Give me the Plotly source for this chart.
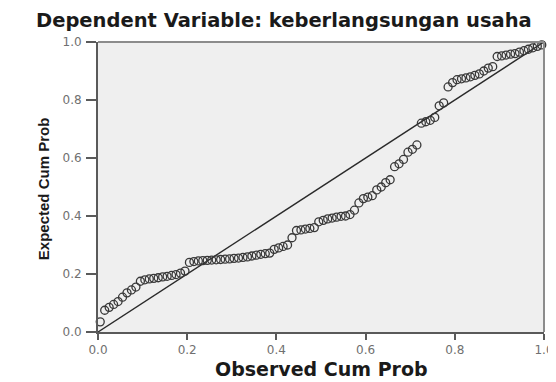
import plotly.graph_objects as go

# Observed cumulative probability (x) and expected cumulative probability (y)
observed = [
    0.005, 0.015, 0.025, 0.035, 0.045, 0.055, 0.065, 0.075, 0.085, 0.095,
    0.105, 0.115, 0.125, 0.135, 0.145, 0.155, 0.165, 0.175, 0.185, 0.195,
    0.205, 0.215, 0.225, 0.235, 0.245, 0.255, 0.265, 0.275, 0.285, 0.295,
    0.305, 0.315, 0.325, 0.335, 0.345, 0.355, 0.365, 0.375, 0.385, 0.395,
    0.405, 0.415, 0.425, 0.435, 0.445, 0.455, 0.465, 0.475, 0.485, 0.495,
    0.505, 0.515, 0.525, 0.535, 0.545, 0.555, 0.565, 0.575, 0.585, 0.595,
    0.605, 0.615, 0.625, 0.635, 0.645, 0.655, 0.665, 0.675, 0.685, 0.695,
    0.705, 0.715, 0.725, 0.735, 0.745, 0.755, 0.765, 0.775, 0.785, 0.795,
    0.805, 0.815, 0.825, 0.835, 0.845, 0.855, 0.865, 0.875, 0.885, 0.895,
    0.905, 0.915, 0.925, 0.935, 0.945, 0.955, 0.965, 0.975, 0.985, 0.995,
]
expected = [
    0.035, 0.075, 0.085, 0.095, 0.105, 0.12, 0.135, 0.145, 0.155, 0.175,
    0.18, 0.183, 0.185, 0.187, 0.19, 0.192, 0.195, 0.198, 0.203, 0.21,
    0.24, 0.243, 0.245, 0.246, 0.247, 0.248, 0.249, 0.25, 0.251, 0.252,
    0.254, 0.255, 0.257, 0.259, 0.262, 0.265, 0.268, 0.27, 0.272, 0.285,
    0.29, 0.295, 0.30, 0.325, 0.35, 0.352, 0.355, 0.357, 0.36, 0.38,
    0.385, 0.39, 0.393, 0.396, 0.399, 0.40, 0.405, 0.42, 0.445, 0.46,
    0.465, 0.47, 0.49, 0.50, 0.515, 0.525, 0.57, 0.58, 0.595, 0.62,
    0.63, 0.645, 0.72, 0.725, 0.73, 0.74, 0.78, 0.79, 0.845, 0.86,
    0.87, 0.873, 0.876, 0.88, 0.885, 0.89, 0.90, 0.91, 0.915, 0.95,
    0.952, 0.955, 0.958, 0.96, 0.965, 0.97, 0.975, 0.98, 0.985, 0.99,
]
diag = [0.0, 1.0]
tick_vals = [0.0, 0.2, 0.4, 0.6, 0.8, 1.0]
tick_text = ["0.0", "0.2", "0.4", "0.6", "0.8", "1.0"]

title_text = "Dependent Variable: keberlangsungan usaha"
x_title = "Observed Cum Prob"
y_title = "Expected Cum Prob"

fig = go.Figure()
fig.add_trace(go.Scatter(
    x=diag, y=diag, mode="lines",
    line=dict(color="#2a2a2a", width=1.4),
    hoverinfo="skip", showlegend=False,
))
fig.add_trace(go.Scatter(
    x=observed, y=expected, mode="markers",
    marker=dict(symbol="circle-open", size=8, color="#383838",
                line=dict(width=1.3)),
    cliponaxis=False, showlegend=False,
))

axis_common = dict(
    range=[0, 1], tickvals=tick_vals, ticktext=tick_text,
    showgrid=False, zeroline=False,
    showline=True, linecolor="#5a5a5a", linewidth=2,
    ticks="outside", tickcolor="#5a5a5a", tickwidth=2,
    tickfont=dict(family="DejaVu Sans", size=12, color="#707070"),
    ticklabeloverflow="allow", automargin=False,
    fixedrange=True,
)
fig.update_xaxes(**axis_common, ticklen=6)
fig.update_yaxes(**axis_common, ticklen=10, ticklabelstandoff=2)

# top and right frame lines (lighter gray)
fig.add_shape(type="line", xref="paper", yref="paper", x0=0, x1=1, y0=1, y1=1,
              line=dict(color="#8c8c8c", width=2))
fig.add_shape(type="line", xref="paper", yref="paper", x0=1, x1=1, y0=0, y1=1,
              line=dict(color="#8c8c8c", width=2))

fig.add_annotation(text=f"<b>{title_text}</b>", xref="paper", yref="paper",
                   x=0.417, y=1.117, xanchor="center", yanchor="top",
                   showarrow=False, borderpad=0,
                   font=dict(family="DejaVu Sans", size=19.5, color="#1a1a1a"))
fig.add_annotation(text=f"<b>{x_title}</b>", xref="paper", yref="paper",
                   x=0.5, y=-0.129, xanchor="center", yanchor="middle",
                   showarrow=False, borderpad=0,
                   font=dict(family="DejaVu Sans", size=19, color="#1a1a1a"))
fig.add_annotation(text=f"<b>{y_title}</b>", xref="paper", yref="paper",
                   x=-0.123, y=0.493, xanchor="center", yanchor="middle",
                   textangle=-90, showarrow=False,
                   font=dict(family="Liberation Sans", size=15, color="#1a1a1a"))

# the page body has an 8px margin, so the figure is offset by 8px in the window
fig.update_layout(
    width=548, height=374,
    margin=dict(l=90, r=12, t=34, b=50),
    paper_bgcolor="white", plot_bgcolor="#efefef",
    showlegend=False,
)

fig.write_html("out.html")
